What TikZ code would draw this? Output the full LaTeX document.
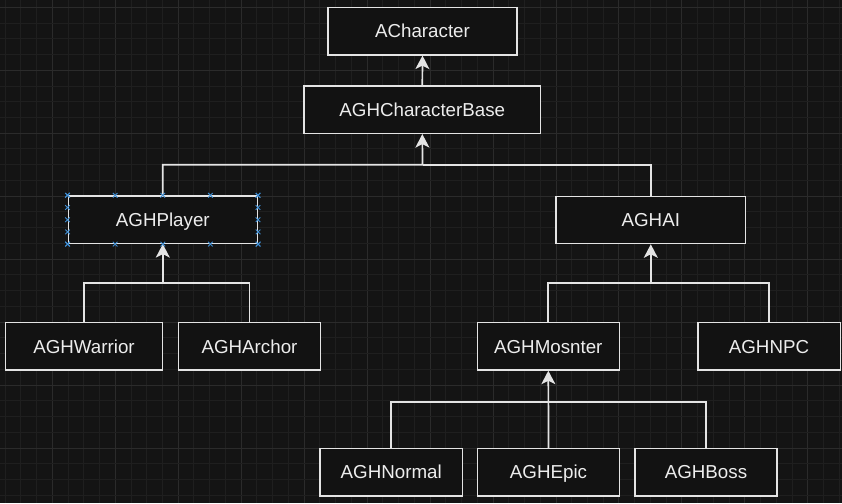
\documentclass[tikz,border=0pt]{standalone}
\usepackage{fontspec}
\setmainfont{Liberation Sans}
\usetikzlibrary{arrows.meta,calc}
\definecolor{bgc}{HTML}{141414}
\definecolor{minorc}{HTML}{1F1F1F}
\definecolor{majorc}{HTML}{2B2B2B}
\definecolor{linec}{HTML}{E4E4E4}
\definecolor{txtc}{HTML}{EDEDED}
\definecolor{boxfill}{HTML}{121212}
\definecolor{selc}{HTML}{3F8ED4}
\tikzset{
  cls/.style={draw=linec, line width=1.5pt, fill=boxfill, text=txtc,
    minimum height=47.3pt, inner sep=0pt, text height=13.4pt, text depth=0pt,
    font=\fontsize{18.75}{22}\selectfont},
  inh/.style={draw=linec, line width=1.7pt,
    -{Stealth[length=13.5pt,width=14pt,inset=3.5pt]}},
  link/.style={draw=linec, line width=1.7pt},
  selmark/.style={draw=selc, line width=0.9pt},
}
\begin{document}
\begin{tikzpicture}[x=1pt,y=-1pt]
\useasboundingbox (0,0) rectangle (842,503);
\fill[bgc] (0,0) rectangle (842,503);
% grid
\foreach \i in {0,...,54}{
  \pgfmathsetmacro{\gx}{5.1+15.74*\i}
  \pgfmathtruncatemacro{\mm}{mod(\i+1,4)}
  \ifnum\mm=0
    \draw[majorc, line width=1pt] (\gx,0) -- (\gx,503);
  \else
    \draw[minorc, line width=1pt] (\gx,0) -- (\gx,503);
  \fi
}
\foreach \j in {-1,...,32}{
  \pgfmathsetmacro{\gy}{7.3+15.74*\j}
  \pgfmathtruncatemacro{\mm}{mod(\j+4,4)}
  \ifnum\mm=0
    \draw[majorc, line width=1pt] (0,\gy) -- (842,\gy);
  \else
    \draw[minorc, line width=1pt] (0,\gy) -- (842,\gy);
  \fi
}
% classes
\node[cls, minimum width=189pt] (achar) at (422.5,31.2) {ACharacter};
\node[cls, minimum width=236.5pt] (base) at (422.3,109.7) {AGHCharacterBase};
\node[cls, minimum width=189pt] (player) at (162.8,219.7) {AGHPlayer};
\node[cls, minimum width=189.5pt] (ai) at (650.8,219.9) {AGHAI};
\node[cls, minimum width=157.4pt] (warrior) at (84,346.3) {AGHWarrior};
\node[cls, minimum width=142.3pt] (archor) at (249.5,346.3) {AGHArchor};
\node[cls, minimum width=142pt] (monster) at (548.3,346.3) {AGHMosnter};
\node[cls, minimum width=142.5pt] (npc) at (769,346.3) {AGHNPC};
\node[cls, minimum width=142.3pt] (normal) at (391.2,472.2) {AGHNormal};
\node[cls, minimum width=142.3pt] (epic) at (548.5,472.2) {AGHEpic};
\node[cls, minimum width=142pt] (boss) at (706,472.2) {AGHBoss};
% junction points
\coordinate (j0) at (422.5,164.8);
\coordinate (j1) at (162.8,283.3);
\coordinate (j2) at (650.8,283.3);
\coordinate (j3) at (548.4,401.7);
% connectors
\draw[inh] (base.north) -- (achar.south);
\draw[link] (ai.north) |- (j0);
\draw[inh] (player.north) |- (j0) -- (base.south);
\draw[link] (archor.north) |- (j1);
\draw[inh] (warrior.north) |- (j1) -- (player.south);
\draw[link] (npc.north) |- (j2);
\draw[inh] (monster.north) |- (j2) -- (ai.south);
\draw[link] (normal.north) |- (j3);
\draw[link] (boss.north) |- (j3);
\draw[inh] (epic.north) -- (monster.south);
% selection handles on AGHPlayer
\foreach \a/\b in {player.north west/player.north east, player.south west/player.south east,
   player.north west/player.south west, player.north east/player.south east}{
  \foreach \f in {0,0.25,0.5,0.75,1}{
    \coordinate (hm) at ($(\a)!\f!(\b)$);
    \draw[selmark] ([shift={(-2.3,-2.3)}]hm) -- ([shift={(2.3,2.3)}]hm)
                   ([shift={(-2.3,2.3)}]hm) -- ([shift={(2.3,-2.3)}]hm);
  }
}
\end{tikzpicture}
\end{document}
